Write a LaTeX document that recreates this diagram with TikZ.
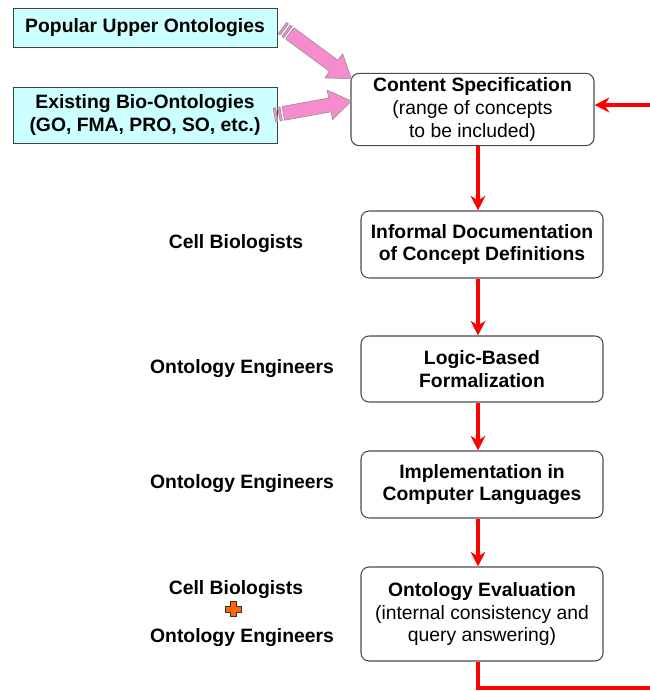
\documentclass[tikz,border=0pt]{standalone}
\usepackage{fontspec}
\setmainfont{Liberation Sans}
\usetikzlibrary{arrows.meta,calc}

\definecolor{boxcyan}{RGB}{204,255,255}
\definecolor{arrowpink}{RGB}{245,140,205}
\definecolor{plusorange}{RGB}{255,102,0}

% fat striped arrow from #1 (tail) to #2 (tip)
\newcommand\fatarrow[2]{%
  \foreach \u/\w in {0pt/1.8pt, 3.4pt/5.2pt}
    \filldraw[fatarrow] ($(#1)!\u!(#2)!5.25pt!90:(#2)$) -- ($(#1)!\w!(#2)!5.25pt!90:(#2)$)
      -- ($(#1)!\w!(#2)!5.25pt!-90:(#2)$) -- ($(#1)!\u!(#2)!5.25pt!-90:(#2)$) -- cycle;
  \filldraw[fatarrow] ($(#1)!6.8pt!(#2)!5.25pt!90:(#2)$)
    -- ($(#2)!16.5pt!(#1)!5.25pt!-90:(#1)$) -- ($(#2)!16.5pt!(#1)!11.25pt!-90:(#1)$)
    -- (#2)
    -- ($(#2)!16.5pt!(#1)!11.25pt!90:(#1)$) -- ($(#2)!16.5pt!(#1)!5.25pt!90:(#1)$)
    -- ($(#1)!6.8pt!(#2)!5.25pt!-90:(#2)$) -- cycle;
}

\begin{document}
\begin{tikzpicture}[x=0.75pt, y=-0.75pt, font=\fontsize{14.5}{17}\selectfont]
  \tikzset{
    source/.style={rectangle, draw=black!75, line width=0.6pt, fill=boxcyan,
      align=center, font=\fontsize{14.5}{17}\selectfont\bfseries,
      minimum width=198pt, inner sep=2pt},
    stage/.style={rectangle, rounded corners=6pt, draw=black!70, line width=0.8pt,
      fill=white, align=center, minimum width=181.5pt, minimum height=50.25pt},
    who/.style={font=\fontsize{14.5}{17}\selectfont\bfseries},
    fatarrow/.style={fill=arrowpink, draw=black!45, line width=0.4pt, line join=round},
    flow/.style={draw=red, line width=3pt, -{Stealth[length=11pt, width=11pt]}}
  }
  \useasboundingbox (0,0) rectangle (649,691);

  % inputs
  \node[source, minimum height=29.25pt] (upper) at (145,27.5) {Popular Upper Ontologies};
  \node[source, minimum height=42pt] (bio) at (145,115)
    {Existing Bio-Ontologies\\(GO, FMA, PRO, SO, etc.)};

  % stages
  \node[stage, minimum width=182.25pt] (spec) at (472.5,109.5)
    {\textbf{Content Specification}\\(range of concepts\\to be included)};
  \node[stage] (info) at (482,244.5)
    {\textbf{Informal Documentation}\\\textbf{of Concept Definitions}};
  \node[stage, minimum height=49.5pt] (logic) at (482,369)
    {\textbf{Logic-Based}\\\textbf{Formalization}};
  \node[stage] (impl) at (482,484.5)
    {\textbf{Implementation in}\\\textbf{Computer Languages}};
  \node[stage, minimum height=70.5pt] (eval) at (482,614)
    {\textbf{Ontology Evaluation}\\(internal consistency and\\query answering)};

  % who does it
  \node[who] (bio1) at (236,244) {Cell Biologists};
  \node[who] (eng1) at (242,369) {Ontology Engineers};
  \node[who] (eng2) at (242,484) {Ontology Engineers};
  \node[who] (bio2) at (236,590) {Cell Biologists};
  \node[who] (eng3) at (242,638) {Ontology Engineers};
  \coordinate (plus) at (233,609);
  \filldraw[fill=plusorange, draw=black!80, line width=0.5pt]
    ($(plus)+(-3,-7.5)$) -- ++(6,0) -- ++(0,4.5) -- ++(5,0) -- ++(0,6) -- ++(-5,0)
    -- ++(0,4.5) -- ++(-6,0) -- ++(0,-4.5) -- ++(-5,0) -- ++(0,-6) -- ++(5,0) -- cycle;

  % pink inputs
  \coordinate (t1) at ($(upper.east)+(5,0.5)$);
  \coordinate (h1) at ($(spec.north west)+(1,6)$);
  \coordinate (t2) at ($(bio.east)+(-3,0)$);
  \coordinate (h2) at ($(spec.west)+(1,-8.5)$);
  \fatarrow{t1}{h1}
  \fatarrow{t2}{h2}

  % main flow
  \coordinate (col) at (478,0);
  \draw[flow] (spec.south -| col) -- (info.north -| col);
  \draw[flow] (info.south -| col) -- (logic.north -| col);
  \draw[flow] (logic.south -| col) -- (impl.north -| col);
  \draw[flow] (impl.south -| col) -- (eval.north -| col);

  % feedback loop, leaves the picture
  \coordinate (out) at (652,688);
  \coordinate (back) at (652,105);
  \draw[flow, -] (eval.south -| col) |- (out);
  \draw[flow] (back) -- (spec.east |- back);
\end{tikzpicture}
\end{document}
